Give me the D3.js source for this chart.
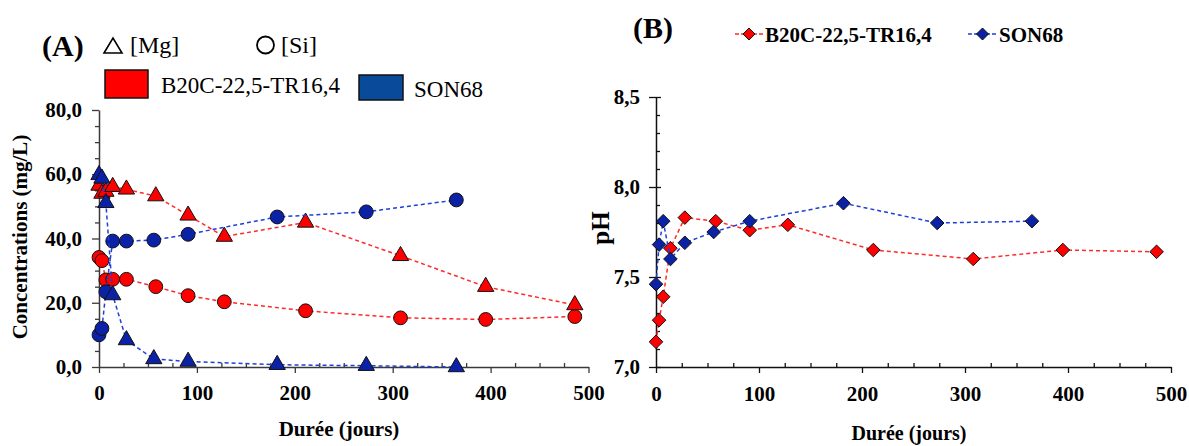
<!DOCTYPE html>
<html><head><meta charset="utf-8">
<script src="https://cdn.jsdelivr.net/npm/d3@7"></script>
<style>
body{margin:0;background:#fff;}
svg{display:block;}
svg text{font-family:"Liberation Serif","Times New Roman",serif !important;}
</style></head>
<body>
<svg id="chart" width="1189" height="446"></svg>
<script>
// ---- data ----
const daysB20C = [0, 3, 7, 14, 28, 58, 91, 128, 211, 308, 395, 486];
const mgB20C   = [56.5, 54.0, 54.6, 56.1, 55.3, 53.2, 47.2, 40.6, 45.0, 34.6, 25.0, 19.3];
const siB20C   = [34.1, 33.1, 27.1, 27.3, 27.3, 25.0, 22.2, 20.3, 17.5, 15.3, 14.8, 15.7];
const phB20C   = [7.14, 7.26, 7.39, 7.66, 7.83, 7.81, 7.76, 7.79, 7.65, 7.60, 7.65, 7.64];
const daysSON68 = [0, 3, 7, 14, 28, 56, 91, 182, 273, 365];
const mgSON68   = [59.8, 58.7, 51.1, 22.4, 8.4, 2.5, 1.7, 0.7, 0.4, 0.0];
const siSON68   = [10.0, 12.0, 23.4, 39.2, 39.2, 39.5, 41.3, 46.7, 48.3, 52.0];
const phSON68   = [7.46, 7.68, 7.81, 7.60, 7.69, 7.75, 7.81, 7.91, 7.80, 7.81];
const xTicks = [0, 100, 200, 300, 400, 500];
const yTicksA = [0, 20, 40, 60, 80];
const yTicksB = [7.0, 7.5, 8.0, 8.5];
const seriesNames = ["B20C-22,5-TR16,4", "SON68"];
const xTitle = "Durée (jours)";
const yTitleA = "Concentrations (mg/L)";
const yTitleB = "pH";

// ---- styles ----
const RED_LINE = "#ff2a2a", RED_FILL = "#ff0000";
const BLUE_LINE = "#1f3fd6", BLUE_FILL = "#0b22a6", BLUE_BOX = "#0a4a9a";
const comma = v => d3.format(".1f")(v).replace(".", ",");
const svg = d3.select("#chart");
svg.append("rect").attr("width",1189).attr("height",446).attr("fill","#fff");

const xA = d3.scaleLinear([0,500],[99,588.5]);
const yA = d3.scaleLinear([0,80],[367,110]);
const xB = d3.scaleLinear([0,500],[656,1171]);
const yB = d3.scaleLinear([7,8.5],[367,97]);

function drawAxes(x, y, yTicks, yMinorStep, color, yPad, xPad, crossIn) {
  const xMinor = d3.range(0, 501, 25).filter(v => v % 100 !== 0);
  const gxm = svg.append("g").attr("transform",`translate(0,${y.range()[0]})`)
    .call(d3.axisBottom(x).tickValues(xMinor).tickFormat("").tickSizeInner(-4).tickSizeOuter(0));
  gxm.select(".domain").remove();
  gxm.selectAll("line").attr("stroke",color).attr("stroke-width",1.3);
  const gx = svg.append("g").attr("transform",`translate(0,${y.range()[0]})`)
    .call(d3.axisBottom(x).tickValues(xTicks).tickFormat(d3.format("d")).tickSize(6).tickSizeOuter(0).tickPadding(xPad));
  gx.select(".domain").attr("stroke",color).attr("stroke-width",1.5);
  gx.selectAll("line").attr("stroke",color).attr("stroke-width",1.3);
  gx.selectAll("text").attr("fill","#000").attr("font-size",21).attr("font-weight","bold");
  const [y0,y1] = y.domain();
  const yMinor = d3.range(y0, y1 + 1e-9, yMinorStep).filter(v => !yTicks.some(t => Math.abs(t - v) < 1e-6));
  const gym = svg.append("g").attr("transform",`translate(${x.range()[0]},0)`)
    .call(d3.axisLeft(y).tickValues(yMinor).tickFormat("").tickSizeInner(crossIn ? -4 : 4).tickSizeOuter(0));
  gym.select(".domain").remove();
  gym.selectAll("line").attr("stroke",color).attr("stroke-width",1.3);
  const gy = svg.append("g").attr("transform",`translate(${x.range()[0]},0)`)
    .call(d3.axisLeft(y).tickValues(yTicks).tickFormat(comma).tickSize(7).tickSizeOuter(0).tickPadding(yPad));
  gy.select(".domain").attr("stroke",color).attr("stroke-width",1.5);
  gy.selectAll("line").attr("stroke",color).attr("stroke-width",1.3).attr("x1", crossIn ? 5 : 0);
  gy.selectAll("text").attr("fill","#000").attr("font-size",21).attr("font-weight","bold");
}

drawAxes(xA, yA, yTicksA, 5, "#3a3a3a", 10, 12, false);
drawAxes(xB, yB, yTicksB, 0.1, "#111", 9, 13, true);

// ---- series drawing ----
const tri = d3.symbol().type(d3.symbolTriangle).size(115);
const circ = d3.symbol().type(d3.symbolCircle).size(150);
const diamondPath = (r) => `M0,${-r}L${r},0L0,${r}L${-r},0Z`;

function series(x, y, days, vals, lineColor, fill, marker) {
  const pts = days.map((d,i) => [d, vals[i]]);
  svg.append("path").datum(pts)
    .attr("d", d3.line().x(d => x(d[0])).y(d => y(d[1])))
    .attr("fill","none").attr("stroke",lineColor).attr("stroke-width",1.5)
    .attr("stroke-dasharray","4,3");
  svg.append("g").selectAll("path").data(pts).join("path")
    .attr("transform", d => `translate(${x(d[0])},${y(d[1])})`)
    .attr("d", marker)
    .attr("fill", fill).attr("stroke","#111").attr("stroke-width",1);
}

// Panel A
series(xA, yA, daysB20C, siB20C, RED_LINE, RED_FILL, circ);
series(xA, yA, daysB20C, mgB20C, RED_LINE, RED_FILL, tri);
series(xA, yA, daysSON68, siSON68, BLUE_LINE, BLUE_FILL, circ);
series(xA, yA, daysSON68, mgSON68, BLUE_LINE, BLUE_FILL, tri);
// Panel B
series(xB, yB, daysB20C, phB20C, RED_LINE, RED_FILL, diamondPath(6.8));
series(xB, yB, daysSON68, phSON68, BLUE_LINE, BLUE_FILL, diamondPath(6.8));

// ---- titles ----
svg.append("text").attr("x",339).attr("y",436).attr("text-anchor","middle")
  .attr("font-size",21).attr("font-weight","bold").text(xTitle);
svg.append("text").attr("x",909).attr("y",440).attr("text-anchor","middle")
  .attr("font-size",20).attr("font-weight","bold").text(xTitle);
svg.append("text").attr("transform","translate(27,237) rotate(-90)").attr("text-anchor","middle")
  .attr("font-size",21).attr("font-weight","bold").text(yTitleA);
svg.append("text").attr("transform","translate(609,228) rotate(-90)").attr("text-anchor","middle")
  .attr("font-size",25).attr("font-weight","bold").text(yTitleB);

// ---- panel labels ----
svg.append("text").attr("x",42).attr("y",56).attr("font-size",30).attr("font-weight","bold").text("(A)");
svg.append("text").attr("x",633).attr("y",38).attr("font-size",30).attr("font-weight","bold").text("(B)");

// ---- legend A ----
svg.append("path").attr("d","M104,53L113,38L122,53Z").attr("fill","none").attr("stroke","#000").attr("stroke-width",1.6);
svg.append("text").attr("x",130).attr("y",53).attr("font-size",24).text("[Mg]");
svg.append("circle").attr("cx",265.5).attr("cy",45).attr("r",8.5).attr("fill","none").attr("stroke","#000").attr("stroke-width",1.8);
svg.append("text").attr("x",281).attr("y",53).attr("font-size",24).text("[Si]");
svg.append("rect").attr("x",105).attr("y",70).attr("width",43).attr("height",28)
  .attr("fill",RED_FILL).attr("stroke","#111").attr("stroke-width",1.5);
svg.append("text").attr("x",161).attr("y",93).attr("font-size",23).text(seriesNames[0]);
svg.append("rect").attr("x",359).attr("y",75).attr("width",44).attr("height",25)
  .attr("fill",BLUE_BOX).attr("stroke","#111").attr("stroke-width",1.5);
svg.append("text").attr("x",414).attr("y",97).attr("font-size",23).text(seriesNames[1]);

// ---- legend B ----
const legB = [
  {x0:735, x1:763, name:seriesNames[0], line:RED_LINE, fill:RED_FILL},
  {x0:968, x1:997, name:seriesNames[1], line:BLUE_LINE, fill:BLUE_FILL}
];
legB.forEach(l => {
  svg.append("line").attr("x1",l.x0).attr("x2",l.x1).attr("y1",34).attr("y2",34)
    .attr("stroke",l.line).attr("stroke-width",1.3).attr("stroke-dasharray","4,2");
  svg.append("path").attr("transform",`translate(${(l.x0+l.x1)/2},34)`).attr("d",diamondPath(6))
    .attr("fill",l.fill).attr("stroke","#111").attr("stroke-width",1);
  svg.append("text").attr("x",l.x1+2).attr("y",41.5).attr("font-size",21).attr("font-weight","bold").text(l.name);
});
</script>
</body></html>
